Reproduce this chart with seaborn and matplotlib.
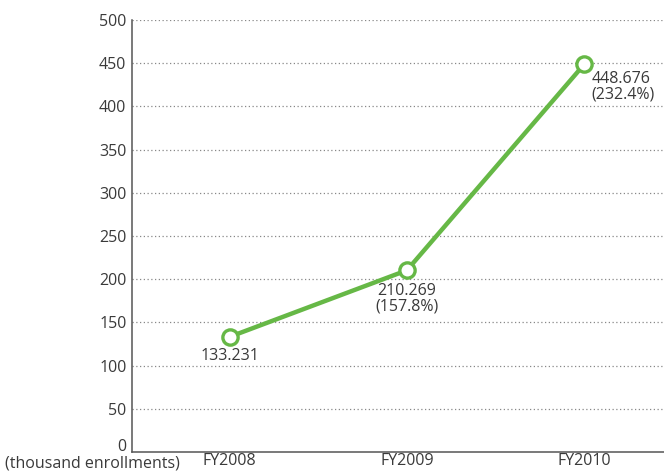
import matplotlib
matplotlib.use("Agg")
import matplotlib.pyplot as plt
import matplotlib.transforms as mtransforms
import seaborn as sns
import pandas as pd

years = ["FY2008", "FY2009", "FY2010"]
enrollments = [133.231, 210.269, 448.676]
growth = ["", "(157.8%)", "(232.4%)"]
y_ticks = [0, 50, 100, 150, 200, 250, 300, 350, 400, 450, 500]

sns.set_theme(style="white")
plt.rcParams["font.family"] = ["Open Sans", "DejaVu Sans"]

green = "#66b846"
text_color = "#3a3a3a"
fs = 11.5

df = pd.DataFrame({"pos": range(len(years)), "value": enrollments})

fig = plt.figure(figsize=(6.64, 4.72), dpi=100)
ax = fig.add_axes([132 / 664, 20 / 472, 1 - 132 / 664, 432 / 472])

sns.lineplot(data=df, x="pos", y="value", ax=ax, color=green, linewidth=3.2,
             marker="o", markersize=11, markerfacecolor="white",
             markeredgecolor=green, markeredgewidth=2.4, zorder=5)

ax.set_xlim(-0.55, 2.45)
ax.set_ylim(0, 500)
ax.set_yticks(y_ticks)
ax.set_yticklabels([str(t) for t in y_ticks], color=text_color, fontsize=fs)
ax.tick_params(axis="y", length=0, pad=4)
# lift the zero label clear of the baseline
zero_label = ax.get_yticklabels()[0]
zero_label.set_transform(zero_label.get_transform() +
                         mtransforms.ScaledTranslation(0, 7 / 100, fig.dpi_scale_trans))

ax.set_xticks(range(len(years)))
ax.set_xticklabels(years, color=text_color, fontsize=fs)
ax.tick_params(axis="x", length=0, pad=1)
ax.set_xticks([0.5, 1.5], minor=True)
ax.tick_params(axis="x", which="minor", direction="in", length=7,
               width=1, color="#555555")
ax.set_xlabel("")
ax.set_ylabel("")

for t in y_ticks[1:]:
    ax.axhline(t, color="#888888", linestyle=(0, (1, 2)), linewidth=0.9, zorder=1)

for side in ["top", "right"]:
    ax.spines[side].set_visible(False)
for side in ["left", "bottom"]:
    ax.spines[side].set_color("#555555")
    ax.spines[side].set_linewidth(1.1)

# Value labels under each point
ax.annotate(f"{enrollments[0]:.3f}", (0, enrollments[0]), xytext=(0, -8),
            textcoords="offset points", ha="center", va="top",
            fontsize=fs, color=text_color)
ax.annotate(f"{enrollments[1]:.3f}\n{growth[1]}", (1, enrollments[1]),
            xytext=(0, -9), textcoords="offset points", ha="center", va="top",
            fontsize=fs, color=text_color, linespacing=0.95)
ax.annotate(f"{enrollments[2]:.3f}\n{growth[2]}", (2, enrollments[2]),
            xytext=(5, -5), textcoords="offset points", ha="left", va="top",
            fontsize=fs, color=text_color, linespacing=0.95)

fig.text(5 / 664, 1 - 464 / 472, "(thousand enrollments)", color=text_color,
         fontsize=fs, ha="left", va="center")

fig.savefig("out.png", dpi=100)
